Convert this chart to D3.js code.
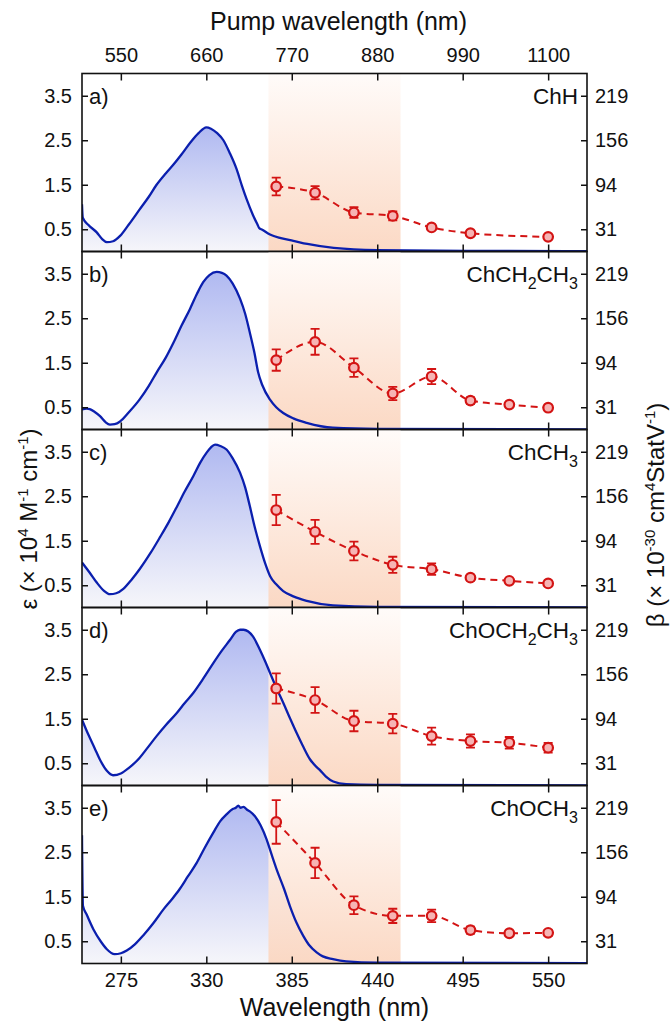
<!DOCTYPE html>
<html>
<head>
<meta charset="utf-8">
<script src="https://cdn.jsdelivr.net/npm/d3@7"></script>
<style>
  body { margin: 0; background: #fff; }
  svg { display: block; font-family: "Liberation Sans", Arial, sans-serif; }
  .axis text { font-size: 20px; fill: #111; }
  .axis line, .axis path { stroke: #111; stroke-width: 1.5; }
</style>
</head>
<body>
<svg id="chart" width="670" height="1021"></svg>
<script>
// wavelength ticks (nm); top axis shows the pump wavelength = 2 x wavelength
const xTicks = [275, 330, 385, 440, 495, 550];
const epsTicks = [0.5, 1.5, 2.5, 3.5];
const betaTicks = [31.25, 93.75, 156.25, 218.75];
const betaLabels = ["31", "94", "156", "219"];

const panelTags = ["a)", "b)", "c)", "d)", "e)"];
// even index = normal text, odd index = subscript
const compoundParts = [["ChH"], ["ChCH", "2", "CH", "3"], ["ChCH", "3"], ["ChOCH", "2", "CH", "3"], ["ChOCH", "3"]];

// absorption spectra [wavelength nm, eps x 1e4]
const specChH = [[250,1.06],[250.5,0.76],[254,0.6],[259.5,0.43],[263,0.28],[266,0.21],[270,0.23],[274.5,0.35],[280,0.6],[287,0.94],[293,1.23],[298,1.5],[304,1.76],[309,1.96],[314,2.18],[320,2.46],[325,2.66],[330,2.79],[333,2.76],[337,2.66],[341,2.5],[345,2.22],[349.5,1.85],[353,1.47],[356,1.17],[360,0.82],[363,0.6],[364,0.53],[366,0.49],[371,0.38],[378,0.3],[386,0.24],[395,0.17],[412,0.08],[440,0.03],[500,0.015],[575,0.01]];
const specChCH2CH3 = [[250,0.45],[253,0.47],[255,0.46],[258,0.4],[261.6,0.3],[265,0.17],[268,0.11],[271,0.12],[274.5,0.18],[280,0.38],[287,0.67],[293,0.98],[298,1.28],[304,1.62],[309,1.96],[314,2.33],[319.5,2.71],[324,3.05],[328,3.31],[332,3.47],[336.7,3.54],[340,3.52],[343,3.46],[347,3.28],[351.7,2.94],[355,2.6],[358,2.18],[361,1.72],[363.4,1.28],[366,1.0],[371,0.67],[375,0.5],[379.5,0.37],[386,0.25],[394.6,0.15],[411.5,0.04],[440,0.015],[575,0.005]];
const specChCH3 = [[250,1.01],[255,0.78],[259.5,0.56],[264,0.38],[268,0.3],[272,0.32],[276.6,0.42],[282,0.63],[287.3,0.87],[294,1.22],[300.2,1.58],[306,1.93],[311,2.26],[316,2.6],[321.6,2.95],[326,3.25],[330.2,3.48],[333,3.6],[335.6,3.66],[339,3.63],[343,3.55],[347,3.35],[351.7,3.03],[355,2.7],[358,2.28],[361,1.83],[364.5,1.38],[368,0.98],[371,0.71],[375,0.52],[379.5,0.37],[386,0.25],[394.6,0.15],[411.5,0.05],[440,0.015],[575,0.005]];
const specChOCH2CH3 = [[250,1.48],[254,1.15],[258,0.85],[262,0.55],[266,0.33],[270,0.23],[275,0.27],[280,0.39],[287,0.62],[292,0.84],[298,1.11],[304,1.36],[311,1.63],[316,1.85],[321.6,2.08],[328,2.4],[334.5,2.75],[340,3.03],[345.2,3.27],[349,3.45],[351.7,3.5],[354,3.5],[357,3.46],[360,3.35],[364.5,3.05],[368,2.78],[371,2.53],[375,2.2],[379.5,1.86],[384,1.5],[388,1.19],[392,0.9],[396.7,0.59],[400,0.45],[403,0.35],[407,0.2],[411.7,0.09],[420,0.03],[440,0.015],[575,0.005]];
const specChOCH3 = [[250,2.88],[250.6,1.3],[253,1.1],[257.3,0.77],[262,0.5],[266,0.32],[271,0.21],[275,0.23],[278.8,0.29],[284,0.43],[289.4,0.63],[296,0.91],[302.3,1.21],[308,1.45],[313,1.68],[318,1.95],[323.8,2.26],[329,2.6],[334.5,2.94],[339,3.2],[343,3.35],[347,3.47],[349,3.5],[350.6,3.55],[352,3.5],[354,3.52],[356,3.46],[358,3.42],[361.3,3.31],[365,3.1],[368.8,2.79],[372,2.45],[375.3,2.11],[380,1.68],[383.8,1.29],[388,0.92],[392.4,0.62],[396,0.42],[401,0.25],[405,0.16],[411.5,0.1],[420,0.05],[440,0.02],[575,0.01]];

// hyperpolarizability beta (x 1e-30 cm4 StatV-1) at half the pump wavelength
const wlChH = [375, 400, 425, 450, 475, 500, 550];
const betaChH = [91.3, 82.5, 54.7, 50.0, 33.8, 25.6, 20.6];
const errChH = [12.5, 9.4, 7.5, 6.3, 2.5, 1.9, 1.9];
const wlAll = [375, 400, 425, 450, 475, 500, 525, 550];
const betaChCH2CH3 = [97.5, 123.1, 86.9, 50.6, 74.4, 40.6, 35.0, 30.6];
const errChCH2CH3 = [15.0, 18.1, 13.1, 9.4, 10.6, 4.4, 3.1, 3.1];
const betaChCH3 = [136.9, 106.3, 79.4, 60.0, 53.8, 41.9, 37.5, 33.8];
const errChCH3 = [21.3, 16.9, 13.1, 11.3, 8.1, 3.8, 2.5, 2.5];
const betaChOCH2CH3 = [136.3, 120.0, 90.6, 86.9, 69.4, 62.5, 60.0, 53.1];
const errChOCH2CH3 = [21.3, 18.1, 14.4, 13.8, 11.9, 9.4, 8.1, 6.9];
const betaChOCH3 = [198.8, 141.3, 81.9, 66.9, 66.9, 46.9, 42.5, 43.1];
const errChOCH3 = [30.6, 21.3, 12.5, 10.0, 8.8, 5.0, 3.1, 3.8];

const panels = [
  { spec: specChH, wl: wlChH, beta: betaChH, err: errChH },
  { spec: specChCH2CH3, wl: wlAll, beta: betaChCH2CH3, err: errChCH2CH3 },
  { spec: specChCH3, wl: wlAll, beta: betaChCH3, err: errChCH3 },
  { spec: specChOCH2CH3, wl: wlAll, beta: betaChOCH2CH3, err: errChOCH2CH3 },
  { spec: specChOCH3, wl: wlAll, beta: betaChOCH3, err: errChOCH3 }
];

var L = 82, R = 587, T = 73.5, PH = 178;
var RED = "#d31414", BLUE = "#0b1fae";
var svg = d3.select("#chart");
var x = d3.scaleLinear().domain([250, 575]).range([L, R]);

var defs = svg.append("defs");
var bg = defs.append("linearGradient").attr("id", "blueFade")
    .attr("x1", 0).attr("y1", 0).attr("x2", 0).attr("y2", 1);
bg.append("stop").attr("offset", 0).attr("stop-color", "rgb(176,185,241)");
bg.append("stop").attr("offset", 1).attr("stop-color", "rgb(246,246,250)");
var og = defs.append("linearGradient").attr("id", "orangeFade")
    .attr("x1", 0).attr("y1", 0).attr("x2", 0).attr("y2", 1);
og.append("stop").attr("offset", 0).attr("stop-color", "rgb(255,251,249)");
og.append("stop").attr("offset", 1).attr("stop-color", "rgb(251,214,192)");

panels.forEach(function (p, i) {
    var top = T + i * PH, bot = top + PH;
    var yL = d3.scaleLinear().domain([0, 4]).range([bot, top]);
    var yR = d3.scaleLinear().domain([0, 250]).range([bot, top]);
    var g = svg.append("g");

    defs.append("clipPath").attr("id", "clip" + i)
        .append("rect").attr("x", L).attr("y", top).attr("width", R - L).attr("height", PH);
    var inner = g.append("g").attr("clip-path", "url(#clip" + i + ")");

    var area = d3.area().x(function (d) { return x(d[0]); })
        .y0(bot).y1(function (d) { return yL(d[1]); })
        .curve(d3.curveMonotoneX);
    inner.append("path").datum(p.spec).attr("d", area).attr("fill", "url(#blueFade)");

    inner.append("rect")
        .attr("x", x(370)).attr("y", top)
        .attr("width", x(455) - x(370)).attr("height", PH)
        .attr("fill", "url(#orangeFade)").attr("opacity", 0.93);

    var line = d3.line().x(function (d) { return x(d[0]); })
        .y(function (d) { return yL(d[1]); })
        .curve(d3.curveMonotoneX);
    inner.append("path").datum(p.spec).attr("d", line)
        .attr("fill", "none").attr("stroke", BLUE).attr("stroke-width", 2.3);

    // beta points
    var pts = p.wl.map(function (w, k) { return { w: w, b: p.beta[k], e: p.err[k] }; });
    var bline = d3.line().x(function (d) { return x(d.w); })
        .y(function (d) { return yR(d.b); })
        .curve(d3.curveMonotoneX);
    inner.append("path").datum(pts).attr("d", bline)
        .attr("fill", "none").attr("stroke", RED).attr("stroke-width", 2)
        .attr("stroke-dasharray", "7,5");

    var eb = inner.append("g").attr("stroke", RED).attr("stroke-width", 1.8);
    pts.forEach(function (d) {
        eb.append("line").attr("x1", x(d.w)).attr("x2", x(d.w))
            .attr("y1", yR(d.b - d.e)).attr("y2", yR(d.b + d.e));
        eb.append("line").attr("x1", x(d.w) - 4.5).attr("x2", x(d.w) + 4.5)
            .attr("y1", yR(d.b - d.e)).attr("y2", yR(d.b - d.e));
        eb.append("line").attr("x1", x(d.w) - 4.5).attr("x2", x(d.w) + 4.5)
            .attr("y1", yR(d.b + d.e)).attr("y2", yR(d.b + d.e));
    });
    inner.selectAll("circle").data(pts).enter().append("circle")
        .attr("cx", function (d) { return x(d.w); })
        .attr("cy", function (d) { return yR(d.b); })
        .attr("r", 4.8)
        .attr("fill", "#f6b4b4").attr("stroke", RED).attr("stroke-width", 2.2);

    // axes
    g.append("g").attr("class", "axis").attr("transform", "translate(0," + bot + ")")
        .call(d3.axisBottom(x).tickValues(xTicks).tickSizeInner(-7).tickSizeOuter(0)
            .tickPadding(9).tickFormat(i === panels.length - 1 ? d3.format("d") : ""))
        .call(function (s) { s.select(".domain").remove(); s.selectAll("text").attr("font-size", 21); });
    g.append("g").attr("class", "axis").attr("transform", "translate(0," + top + ")")
        .call(d3.axisTop(x).tickValues(xTicks).tickSizeInner(-7).tickSizeOuter(0)
            .tickPadding(12).tickFormat(i === 0 ? function (d) { return d * 2; } : ""))
        .call(function (s) { s.select(".domain").remove(); s.selectAll("text").attr("font-size", 21); });
    g.append("g").attr("class", "axis").attr("transform", "translate(" + L + ",0)")
        .call(d3.axisLeft(yL).tickValues(epsTicks).tickSizeInner(-6).tickSizeOuter(0)
            .tickPadding(10).tickFormat(d3.format(".1f")))
        .call(function (s) { s.select(".domain").remove(); });
    g.append("g").attr("class", "axis").attr("transform", "translate(" + R + ",0)")
        .call(d3.axisRight(yR).tickValues(betaTicks).tickSizeInner(-6).tickSizeOuter(0)
            .tickPadding(8).tickFormat(function (d, k) { return betaLabels[k]; }))
        .call(function (s) { s.select(".domain").remove(); });

    g.append("rect").attr("x", L).attr("y", top).attr("width", R - L).attr("height", PH)
        .attr("fill", "none").attr("stroke", "#111").attr("stroke-width", 1.6);

    g.append("text").attr("x", L + 7).attr("y", yL(3.5)).attr("dy", "0.36em")
        .attr("font-size", 22).attr("fill", "#111").text(panelTags[i]);

    var lab = g.append("text").attr("x", R - 9).attr("y", yL(3.5)).attr("dy", "0.36em")
        .attr("text-anchor", "end").attr("font-size", 22.5).attr("fill", "#111");
    compoundParts[i].forEach(function (t, k) {
        var ts = lab.append("tspan").text(t);
        if (k % 2 === 1) ts.attr("font-size", 16).attr("dy", 7);
        else if (k > 0) ts.attr("dy", -7);
    });
});

// axis titles
svg.append("text").attr("x", (L + R) / 2 + 4).attr("y", 30).attr("text-anchor", "middle")
    .attr("font-size", 25).attr("fill", "#111").text("Pump wavelength (nm)");
svg.append("text").attr("x", (L + R) / 2).attr("y", 1016).attr("text-anchor", "middle")
    .attr("font-size", 25).attr("fill", "#111").text("Wavelength (nm)");

function titleWithSup(el, parts) {
    parts.forEach(function (t, k) {
        var ts = el.append("tspan").text(t);
        if (k % 2 === 1) ts.attr("font-size", 15).attr("dy", -9);
        else if (k > 0) ts.attr("dy", 9);
    });
}
var lt = svg.append("text").attr("transform", "translate(37,519) rotate(-90)")
    .attr("text-anchor", "middle").attr("font-size", 24).attr("fill", "#111");
titleWithSup(lt, ["\u03b5 (\u00d7 10", "4", " M", "-1", " cm", "-1", ")"]);
var rt = svg.append("text").attr("transform", "translate(664,515) rotate(-90)")
    .attr("text-anchor", "middle").attr("font-size", 24).attr("fill", "#111");
titleWithSup(rt, ["\u03b2 (\u00d7 10", "-30", " cm", "4", "StatV", "-1", ")"]);
</script>
</body>
</html>
